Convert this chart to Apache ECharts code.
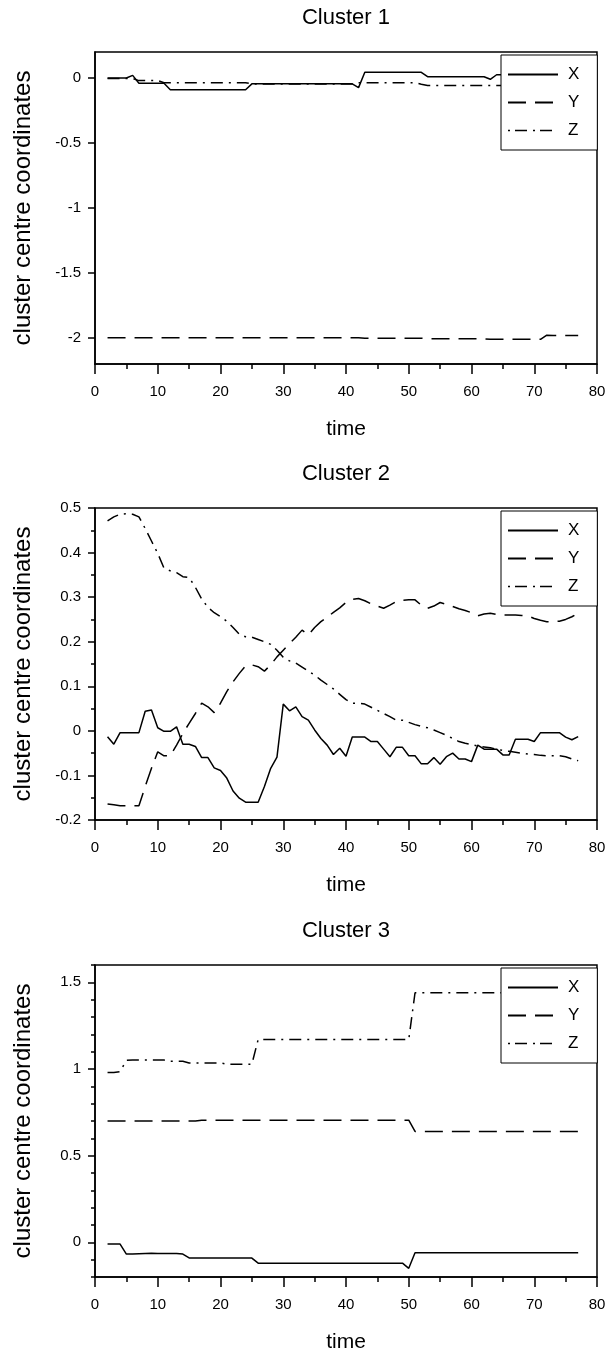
<!DOCTYPE html>
<html>
<head>
<meta charset="utf-8">
<script src="https://cdn.jsdelivr.net/npm/echarts@6/dist/echarts.min.js"></script>
<style>
html, body { margin: 0; padding: 0; background: #fff; }
#chart { width: 610px; height: 1357px; }
</style>
</head>
<body>
<div id="chart"></div>
<script>
// time steps
var time = [2,3,4,5,6,7,8,9,10,11,12,13,14,15,16,17,18,19,20,21,
            22,23,24,25,26,27,28,29,30,31,32,33,34,35,36,37,38,39,40,41,
            42,43,44,45,46,47,48,49,50,51,52,53,54,55,56,57,58,59,60,61,
            62,63,64,65,66,67,68,69,70,71,72,73,74,75,76,77];

// Cluster 1
var c1X = [0,0,0,0,0.02,-0.04,-0.04,-0.04,-0.04,-0.04,
           -0.09,-0.09,-0.09,-0.09,-0.09,-0.09,-0.09,-0.09,-0.09,-0.09,
           -0.09,-0.09,-0.09,-0.045,-0.045,-0.045,-0.045,-0.045,-0.045,-0.045,
           -0.045,-0.045,-0.045,-0.045,-0.045,-0.045,-0.045,-0.045,-0.045,-0.045,
           -0.074,0.044,0.044,0.044,0.044,0.044,0.044,0.044,0.044,0.044,
           0.044,0.01,0.01,0.01,0.01,0.01,0.01,0.01,0.01,0.01,
           0.01,-0.01,0.025,0.025,0.025,0.025,0.025,0.025,0.025,0.025,
           0.025,0.025,0.025,0.025,0.025,0.025];
var c1Y = [-1.998,-1.998,-1.998,-1.998,-1.998,-1.998,-1.998,-1.998,-1.998,-1.998,
           -1.998,-1.998,-1.998,-1.998,-1.998,-1.998,-1.998,-1.998,-1.998,-1.998,
           -1.998,-1.998,-1.998,-1.998,-1.998,-1.998,-1.998,-1.998,-1.998,-1.998,
           -1.998,-1.998,-1.998,-1.998,-1.998,-1.998,-1.998,-1.998,-1.998,-1.998,
           -1.998,-2.002,-2.002,-2.002,-2.002,-2.002,-2.002,-2.002,-2.002,-2.002,
           -2.002,-2.006,-2.006,-2.006,-2.006,-2.006,-2.006,-2.006,-2.006,-2.006,
           -2.006,-2.01,-2.01,-2.01,-2.01,-2.01,-2.01,-2.01,-2.01,-2.01,
           -1.978,-1.98,-1.98,-1.98,-1.98,-1.98];
var c1Z = [-0.003,-0.003,-0.003,-0.003,-0.003,-0.02,-0.02,-0.02,-0.02,-0.036,
           -0.036,-0.036,-0.036,-0.036,-0.036,-0.036,-0.036,-0.036,-0.036,-0.036,
           -0.036,-0.036,-0.036,-0.046,-0.046,-0.046,-0.046,-0.046,-0.046,-0.046,
           -0.046,-0.046,-0.046,-0.046,-0.046,-0.046,-0.046,-0.046,-0.046,-0.046,
           -0.036,-0.036,-0.036,-0.036,-0.036,-0.036,-0.036,-0.036,-0.036,-0.036,
           -0.048,-0.058,-0.058,-0.058,-0.058,-0.058,-0.058,-0.058,-0.058,-0.058,
           -0.058,-0.058,-0.058,-0.058,-0.058,-0.058,-0.058,-0.058,-0.058,-0.058,
           -0.058,-0.058,-0.058,-0.058,-0.058,-0.058];

// Cluster 2
var c2X = [-0.013,-0.03,-0.004,-0.004,-0.004,-0.004,0.044,0.047,0.007,-0.001,
           -0.001,0.009,-0.03,-0.03,-0.035,-0.06,-0.06,-0.083,-0.089,-0.106,
           -0.135,-0.151,-0.16,-0.16,-0.16,-0.125,-0.084,-0.059,0.06,0.045,
           0.054,0.032,0.024,0.002,-0.017,-0.032,-0.053,-0.039,-0.057,-0.014,
           -0.014,-0.014,-0.024,-0.024,-0.041,-0.058,-0.037,-0.037,-0.056,-0.056,
           -0.074,-0.074,-0.06,-0.075,-0.058,-0.05,-0.063,-0.063,-0.069,-0.032,
           -0.041,-0.041,-0.041,-0.054,-0.054,-0.019,-0.019,-0.019,-0.024,-0.004,
           -0.004,-0.004,-0.004,-0.014,-0.02,-0.013];
var c2Y = [-0.164,-0.166,-0.168,-0.168,-0.168,-0.168,-0.125,-0.084,-0.047,-0.056,
           -0.056,-0.032,-0.006,0.017,0.039,0.062,0.054,0.041,0.062,0.088,
           0.11,0.129,0.146,0.148,0.144,0.134,0.148,0.166,0.181,0.196,
           0.21,0.226,0.215,0.232,0.245,0.255,0.266,0.276,0.288,0.295,
           0.297,0.292,0.285,0.28,0.275,0.282,0.29,0.293,0.294,0.294,
           0.282,0.275,0.28,0.288,0.284,0.279,0.274,0.27,0.265,0.258,
           0.262,0.264,0.261,0.26,0.26,0.26,0.259,0.258,0.252,0.248,
           0.245,0.245,0.246,0.25,0.256,0.264];
var c2Z = [0.471,0.48,0.486,0.487,0.486,0.48,0.454,0.426,0.398,0.365,
           0.359,0.355,0.346,0.344,0.322,0.296,0.277,0.265,0.256,0.246,
           0.232,0.217,0.211,0.21,0.205,0.2,0.194,0.181,0.165,0.157,
           0.152,0.143,0.134,0.125,0.114,0.104,0.094,0.082,0.07,0.062,
           0.062,0.06,0.053,0.046,0.039,0.032,0.024,0.024,0.019,0.014,
           0.01,0.007,0.002,-0.004,-0.01,-0.017,-0.024,-0.028,-0.031,-0.034,
           -0.036,-0.038,-0.041,-0.044,-0.046,-0.048,-0.05,-0.052,-0.053,-0.055,
           -0.056,-0.056,-0.056,-0.058,-0.063,-0.067];

// Cluster 3
var c3X = [-0.01,-0.01,-0.01,-0.068,-0.068,-0.066,-0.064,-0.063,-0.064,-0.064,
           -0.064,-0.064,-0.068,-0.09,-0.09,-0.09,-0.09,-0.09,-0.09,-0.091,
           -0.091,-0.091,-0.091,-0.091,-0.12,-0.12,-0.12,-0.12,-0.12,-0.12,
           -0.12,-0.12,-0.12,-0.12,-0.12,-0.12,-0.12,-0.12,-0.12,-0.12,
           -0.12,-0.12,-0.12,-0.12,-0.12,-0.12,-0.12,-0.12,-0.15,-0.06,
           -0.06,-0.06,-0.06,-0.06,-0.06,-0.06,-0.06,-0.06,-0.06,-0.06,
           -0.06,-0.06,-0.06,-0.06,-0.06,-0.06,-0.06,-0.06,-0.06,-0.06,
           -0.06,-0.06,-0.06,-0.06,-0.06,-0.06];
var c3Y = [0.7,0.7,0.7,0.7,0.7,0.7,0.7,0.7,0.7,0.7,
           0.7,0.7,0.7,0.7,0.7,0.705,0.705,0.705,0.705,0.705,
           0.705,0.705,0.705,0.705,0.705,0.705,0.705,0.705,0.705,0.705,
           0.705,0.705,0.705,0.705,0.705,0.705,0.705,0.705,0.705,0.705,
           0.705,0.705,0.705,0.705,0.705,0.705,0.705,0.705,0.705,0.64,
           0.64,0.64,0.64,0.64,0.64,0.64,0.64,0.64,0.64,0.64,
           0.64,0.64,0.64,0.64,0.64,0.64,0.64,0.64,0.64,0.64,
           0.64,0.64,0.64,0.64,0.64,0.64];
var c3Z = [0.98,0.98,0.985,1.05,1.052,1.052,1.052,1.052,1.052,1.052,
           1.045,1.045,1.045,1.035,1.035,1.035,1.035,1.035,1.035,1.028,
           1.028,1.028,1.028,1.028,1.17,1.17,1.17,1.17,1.17,1.17,
           1.17,1.17,1.17,1.17,1.17,1.17,1.17,1.17,1.17,1.17,
           1.17,1.17,1.17,1.17,1.17,1.17,1.17,1.17,1.17,1.44,
           1.44,1.44,1.44,1.44,1.44,1.44,1.44,1.44,1.44,1.44,
           1.44,1.44,1.44,1.44,1.44,1.44,1.44,1.44,1.44,1.44,
           1.44,1.44,1.44,1.44,1.44,1.44];

var titles = ['Cluster 1', 'Cluster 2', 'Cluster 3'];
var seriesNames = ['X', 'Y', 'Z'];
var yLabels1 = [0, -0.5, -1, -1.5, -2];
var yLabels3 = [0, 0.5, 1, 1.5];
var yMinor3 = [-0.2, -0.1, 0.1, 0.2, 0.3, 0.4, 0.6, 0.7, 0.8, 0.9, 1.1, 1.2, 1.3, 1.4, 1.6];

var FONT = '"Liberation Sans", Arial, sans-serif';
var panelTops = [52, 508, 965];
var GRID_LEFT = 95, GRID_W = 502, GRID_H = 312;

function pairs(vals) {
    var out = [];
    for (var i = 0; i < vals.length; i++) out.push([time[i], vals[i]]);
    return out;
}

var lineTypes = ['solid', [18, 9], [12, 6, 2, 6]];
var data = [[c1X, c1Y, c1Z], [c2X, c2Y, c2Z], [c3X, c3Y, c3Z]];

var grids = [], xAxes = [], yAxes = [], series = [], titleList = [], legends = [];
var blk = { color: '#000', width: 1.5 };

// legend entries, the Z sample starts with a dot like the original
var legendItems = [
    { name: 'X' },
    { name: 'Y' },
    { name: 'Z', lineStyle: { type: [2, 5, 12, 6], color: '#000', width: 1.5 } }
];

for (var p = 0; p < 3; p++) {
    grids.push({ left: GRID_LEFT, top: panelTops[p], width: GRID_W, height: GRID_H,
        show: true, borderColor: '#000', borderWidth: 1.5, backgroundColor: '#fff' });
    titleList.push({ text: titles[p], left: GRID_LEFT + GRID_W / 2, textAlign: 'center',
        top: panelTops[p] - 45, padding: 0,
        textStyle: { fontFamily: FONT, fontSize: 22, fontWeight: 'normal', color: '#000' } });
    xAxes.push({
        gridIndex: p, type: 'value', min: 0, max: 80, interval: 10,
        name: 'time', nameLocation: 'middle', nameGap: 55,
        nameTextStyle: { fontFamily: FONT, fontSize: 21, color: '#000' },
        axisLine: { onZero: false, lineStyle: blk },
        axisTick: { length: 10, lineStyle: blk },
        minorTick: { show: true, splitNumber: 2, length: 5, lineStyle: blk },
        splitLine: { show: false },
        axisLabel: { margin: 20, fontFamily: FONT, fontSize: 15, color: '#000' }
    });
    legends.push({
        data: legendItems, orient: 'vertical', left: 501, top: panelTops[p] + 3,
        backgroundColor: '#fff', borderColor: '#000', borderWidth: 1,
        padding: [11, 18, 11, 6], itemWidth: 50, itemHeight: 16, itemGap: 11,
        selectedMode: false, itemStyle: { opacity: 0 },
        textStyle: { fontFamily: FONT, fontSize: 17, color: '#000', padding: [0, 0, 0, 5] }
    });
}

var yName = { name: 'cluster centre coordinates', nameLocation: 'middle', nameGap: 60,
    nameTextStyle: { fontFamily: FONT, fontSize: 24, color: '#000' } };
var yLab = { margin: 14, fontFamily: FONT, fontSize: 15, color: '#000' };

yAxes.push(Object.assign({
    gridIndex: 0, type: 'value', min: -2.2, max: 0.2, interval: 0.1,
    axisLine: { show: true, lineStyle: blk },
    axisTick: { show: true, length: 7, lineStyle: blk, customValues: yLabels1 },
    axisLabel: Object.assign({ customValues: yLabels1 }, yLab),
    splitLine: { show: false }
}, yName));
yAxes.push(Object.assign({
    gridIndex: 1, type: 'value', min: -0.2, max: 0.5, interval: 0.1,
    axisLine: { show: true, lineStyle: blk },
    axisTick: { show: true, length: 7, lineStyle: blk },
    minorTick: { show: true, splitNumber: 2, length: 4, lineStyle: blk },
    axisLabel: yLab,
    splitLine: { show: false }
}, yName));
yAxes.push(Object.assign({
    gridIndex: 2, type: 'value', min: -0.2, max: 1.6, interval: 0.1,
    axisLine: { show: true, lineStyle: blk },
    axisTick: { show: true, length: 7, lineStyle: blk, customValues: yLabels3 },
    axisLabel: Object.assign({ customValues: yLabels3 }, yLab),
    splitLine: { show: false }
}, yName));
// minor ticks for cluster 3
yAxes.push({
    gridIndex: 2, type: 'value', position: 'left', min: -0.2, max: 1.6, interval: 0.1,
    axisLine: { show: false },
    axisTick: { show: true, length: 4, lineStyle: blk, customValues: yMinor3 },
    axisLabel: { show: false },
    splitLine: { show: false }
});

for (var p = 0; p < 3; p++) {
    for (var s = 0; s < 3; s++) {
        series.push({
            name: seriesNames[s], type: 'line', xAxisIndex: p, yAxisIndex: p,
            data: pairs(data[p][s]), symbol: 'none', silent: true,
            lineStyle: { color: '#000', width: 1.5, type: lineTypes[s] },
            itemStyle: { color: '#000' }
        });
    }
}

var chart = echarts.init(document.getElementById('chart'));
chart.setOption({
    animation: false,
    backgroundColor: '#fff',
    title: titleList,
    legend: legends,
    grid: grids,
    xAxis: xAxes,
    yAxis: yAxes,
    series: series
});
</script>
</body>
</html>
